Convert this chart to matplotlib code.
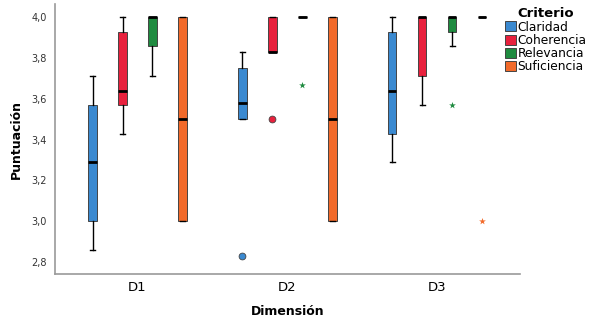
import matplotlib
matplotlib.use("Agg")
import matplotlib.pyplot as plt
from matplotlib.patches import Patch
from matplotlib.ticker import FuncFormatter

# DATA
DIMENSIONS = ["D1", "D2", "D3"]
CRITERIA = ["Claridad", "Coherencia", "Relevancia", "Suficiencia"]

# per criterion, one value per dimension (D1, D2, D3)
WHIS_LO = [[2.86, 3.50, 3.29], [3.43, 3.83, 3.57], [3.71, 4.00, 3.86], [3.00, 3.00, 4.00]]
Q1 = [[3.00, 3.50, 3.43], [3.57, 3.83, 3.71], [3.86, 4.00, 3.93], [3.00, 3.00, 4.00]]
MEDIAN = [[3.29, 3.58, 3.64], [3.64, 3.83, 4.00], [4.00, 4.00, 4.00], [3.50, 3.50, 4.00]]
Q3 = [[3.57, 3.75, 3.93], [3.93, 4.00, 4.00], [4.00, 4.00, 4.00], [4.00, 4.00, 4.00]]
WHIS_HI = [[3.71, 3.83, 4.00], [4.00, 4.00, 4.00], [4.00, 4.00, 4.00], [4.00, 4.00, 4.00]]

# outliers: (criterion index, dimension index, value, kind)
OUTLIERS = [
    (0, 1, 2.83, "o"),
    (1, 1, 3.50, "o"),
    (2, 1, 3.67, "*"),
    (2, 2, 3.57, "*"),
    (3, 2, 3.00, "*"),
]

COLORS = ["#3A89D0", "#E8213D", "#1F8B40", "#F26A2A"]
OFFSETS = [-0.3, -0.1, 0.1, 0.3]
BOX_W = 0.055

fig = plt.figure(figsize=(5.92, 3.21), dpi=100)
ax = fig.add_axes([0.093, 0.146, 0.785, 0.841])

for ci, crit in enumerate(CRITERIA):
    stats = []
    positions = []
    for di in range(len(DIMENSIONS)):
        stats.append(
            dict(
                med=MEDIAN[ci][di],
                q1=Q1[ci][di],
                q3=Q3[ci][di],
                whislo=WHIS_LO[ci][di],
                whishi=WHIS_HI[ci][di],
                fliers=[],
            )
        )
        positions.append(di + OFFSETS[ci])
    ax.bxp(
        stats,
        positions=positions,
        widths=BOX_W,
        capwidths=0.03,
        patch_artist=True,
        showfliers=False,
        boxprops=dict(facecolor=COLORS[ci], edgecolor="#444444", linewidth=0.7),
        medianprops=dict(color="black", linewidth=2),
        whiskerprops=dict(color="black", linewidth=1),
        capprops=dict(color="black", linewidth=1),
        manage_ticks=False,
    )

for ci, di, val, kind in OUTLIERS:
    x = di + OFFSETS[ci]
    if kind == "o":
        ax.scatter([x], [val], s=24, marker="o", color=COLORS[ci],
                   edgecolor="#444444", linewidth=0.6, zorder=3)
    else:
        ax.scatter([x], [val], s=26, marker="*", color=COLORS[ci],
                   linewidth=0, zorder=3)

ax.set_xlim(-0.55, 2.55)
ax.set_ylim(2.741, 4.064)
ax.set_xticks(range(len(DIMENSIONS)))
ax.set_xticklabels(DIMENSIONS, fontsize=9.5)
ax.set_yticks([2.8, 3.0, 3.2, 3.4, 3.6, 3.8, 4.0])
ax.yaxis.set_major_formatter(FuncFormatter(lambda v, p: f"{v:.1f}".replace(".", ",")))
ax.tick_params(axis="y", length=0, labelsize=7, pad=6, colors="#333333")
ax.tick_params(axis="x", length=0, pad=5)

for side in ["top", "right"]:
    ax.spines[side].set_visible(False)
for side in ["left", "bottom"]:
    ax.spines[side].set_color("#9a9a9a")
    ax.spines[side].set_linewidth(1.2)

ax.set_xlabel("Dimensión", fontsize=9, fontweight="bold", labelpad=8)
ax.set_ylabel("Puntuación", fontsize=9, fontweight="bold", labelpad=6)

handles = [Patch(facecolor=c, edgecolor="#444444", linewidth=0.7) for c in COLORS]
leg = fig.legend(
    handles, CRITERIA, title="Criterio", loc="upper left",
    bbox_to_anchor=(0.84, 1.0), frameon=False, fontsize=8.8,
    handlelength=0.9, handleheight=0.9, handletextpad=0.15,
    labelspacing=0.02, borderaxespad=0.2,
    title_fontproperties=dict(weight="bold", size=9.5),
)

fig.savefig("out.png", dpi=100)
